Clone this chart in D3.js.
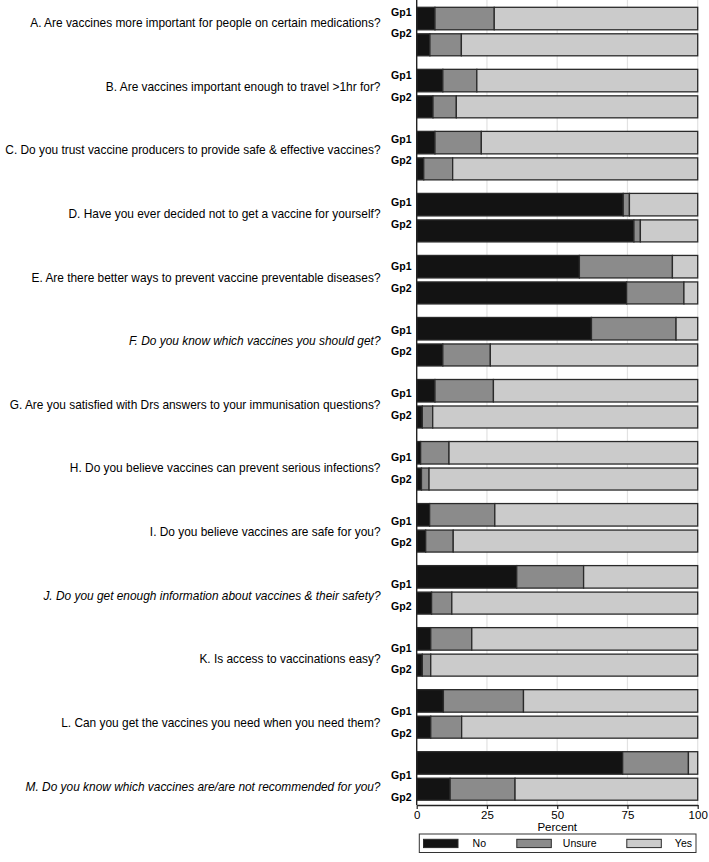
<!DOCTYPE html>
<html><head><meta charset="utf-8">
<script src="https://cdn.jsdelivr.net/npm/d3@7"></script>
<style>body{margin:0;background:#fff}svg{display:block}text{font-family:"Liberation Sans",Arial,sans-serif;fill:#000}</style>
</head><body>
<script>
const questions = [
  "A. Are vaccines more important for people on certain medications?",
  "B. Are vaccines important enough to travel >1hr for?",
  "C. Do you trust vaccine producers to provide safe & effective vaccines?",
  "D. Have you ever decided not to get a vaccine for yourself?",
  "E. Are there better ways to prevent vaccine preventable diseases?",
  "F. Do you know which vaccines you should get?",
  "G. Are you satisfied with Drs answers to your immunisation questions?",
  "H. Do you believe vaccines can prevent serious infections?",
  "I. Do you believe vaccines are safe for you?",
  "J. Do you get enough information about vaccines & their safety?",
  "K. Is access to vaccinations easy?",
  "L. Can you get the vaccines you need when you need them?",
  "M. Do you know which vaccines are/are not recommended for you?"
];
const italicQuestions = ["F", "J", "M"];
const groups = ["Gp1", "Gp2"];
const responses = ["No", "Unsure", "Yes"];
// percent "No" and "Unsure" for Gp1 / Gp2, Yes = remainder
const noGp1     = [6.5, 9.3, 6.5, 73.5, 57.9, 62.2, 6.5, 1.4, 4.6, 35.6, 5.0, 9.5, 73.3];
const unsureGp1 = [21.1, 12.1, 16.5, 2.2, 33.1, 30.1, 20.8, 10.1, 23.2, 23.8, 14.6, 28.5, 23.4];
const noGp2     = [4.7, 5.8, 2.5, 77.3, 74.7, 9.3, 2.0, 1.7, 3.2, 5.3, 2.0, 5.0, 11.9];
const unsureGp2 = [11.2, 8.3, 10.3, 2.3, 20.4, 16.9, 3.7, 2.7, 9.8, 7.2, 3.0, 11.0, 23.1];
const xTicks = [0, 25, 50, 75, 100];
const colors = ["#131313", "#8b8b8b", "#cbcbcb"];

const W = 709, H = 862;
const svg = d3.select("body").append("svg").attr("width", W).attr("height", H);

const x = d3.scaleLinear().domain([0, 100]).range([416.7, 697.7]);
const yBar = d3.scaleLinear().domain([0, questions.length - 1]).range([7.3, 751.7]);
const yLab = d3.scaleLinear().domain([0, questions.length - 1]).range([15.5, 779]);
const axisY = 805;

// gridlines
svg.append("g").selectAll("line").data(xTicks.slice(1)).join("line")
  .attr("x1", d => x(d)).attr("x2", d => x(d)).attr("y1", 0).attr("y2", axisY)
  .attr("stroke", "#e2e2e2").attr("stroke-width", 1.2);

const rows = [];
questions.forEach((q, i) => {
  [[noGp1[i], unsureGp1[i]], [noGp2[i], unsureGp2[i]]].forEach(([n, u], g) => {
    const vals = [n, u, 100 - n - u];
    let cum = 0;
    vals.forEach((v, k) => {
      rows.push({i, g, k, x0: cum, x1: cum + v});
      cum += v;
    });
  });
});

svg.append("g").selectAll("rect").data(rows).join("rect")
  .attr("x", d => x(d.x0)).attr("width", d => x(d.x1) - x(d.x0))
  .attr("y", d => yBar(d.i) + (d.g ? 26.5 : 0))
  .attr("height", d => d.g ? 22 : 22.5)
  .attr("fill", d => colors[d.k])
  .attr("stroke", "#2a2a2a").attr("stroke-width", 1.3);

// left axis line
svg.append("line").attr("x1", x(0)).attr("x2", x(0)).attr("y1", 0).attr("y2", axisY)
  .attr("stroke", "#222").attr("stroke-width", 1.4);

// group labels
const gl = svg.append("g");
questions.forEach((q, i) => {
  groups.forEach((gname, g) => {
    gl.append("text").attr("x", 411.5).attr("y", yLab(i) + g * 21.7)
      .attr("text-anchor", "end").attr("font-size", 10.5).attr("font-weight", "bold").text(gname);
  });
  gl.append("text").attr("x", 380.5).attr("y", yLab(i) + 11.5)
    .attr("text-anchor", "end").attr("font-size", 11.9)
    .attr("font-style", italicQuestions.includes(q[0]) ? "italic" : "normal")
    .text(q);
});

// x axis
const ax = svg.append("g").attr("transform", `translate(0,${axisY})`)
  .call(d3.axisBottom(x).tickValues(xTicks).tickSize(4).tickPadding(2).tickSizeOuter(0));
ax.select(".domain").attr("stroke", "#222").attr("stroke-width", 1.4);
ax.selectAll(".tick line").attr("stroke", "#222").attr("stroke-width", 1.2);
ax.selectAll(".tick text").attr("font-size", 11.5).attr("font-family", "Liberation Sans, Arial, sans-serif").attr("fill", "#000");

svg.append("text").attr("x", (x(0) + x(100)) / 2).attr("y", 831)
  .attr("text-anchor", "middle").attr("font-size", 11.5).text("Percent");

// legend
const lg = svg.append("g");
lg.append("rect").attr("x", 419.3).attr("y", 834).attr("width", 276.7).attr("height", 18.5)
  .attr("fill", "#fff").attr("stroke", "#333").attr("stroke-width", 1);
const swX = [423.5, 516.8, 626.8];
const txtX = [486, 596.7, 692];
responses.forEach((r, k) => {
  lg.append("rect").attr("x", swX[k]).attr("y", 839.3).attr("width", 34.5).attr("height", 8.3)
    .attr("fill", colors[k]).attr("stroke", "#2a2a2a").attr("stroke-width", 1);
  lg.append("text").attr("x", txtX[k]).attr("y", 847.2).attr("text-anchor", "end")
    .attr("font-size", 10.5).text(r);
});
</script>
</body></html>
